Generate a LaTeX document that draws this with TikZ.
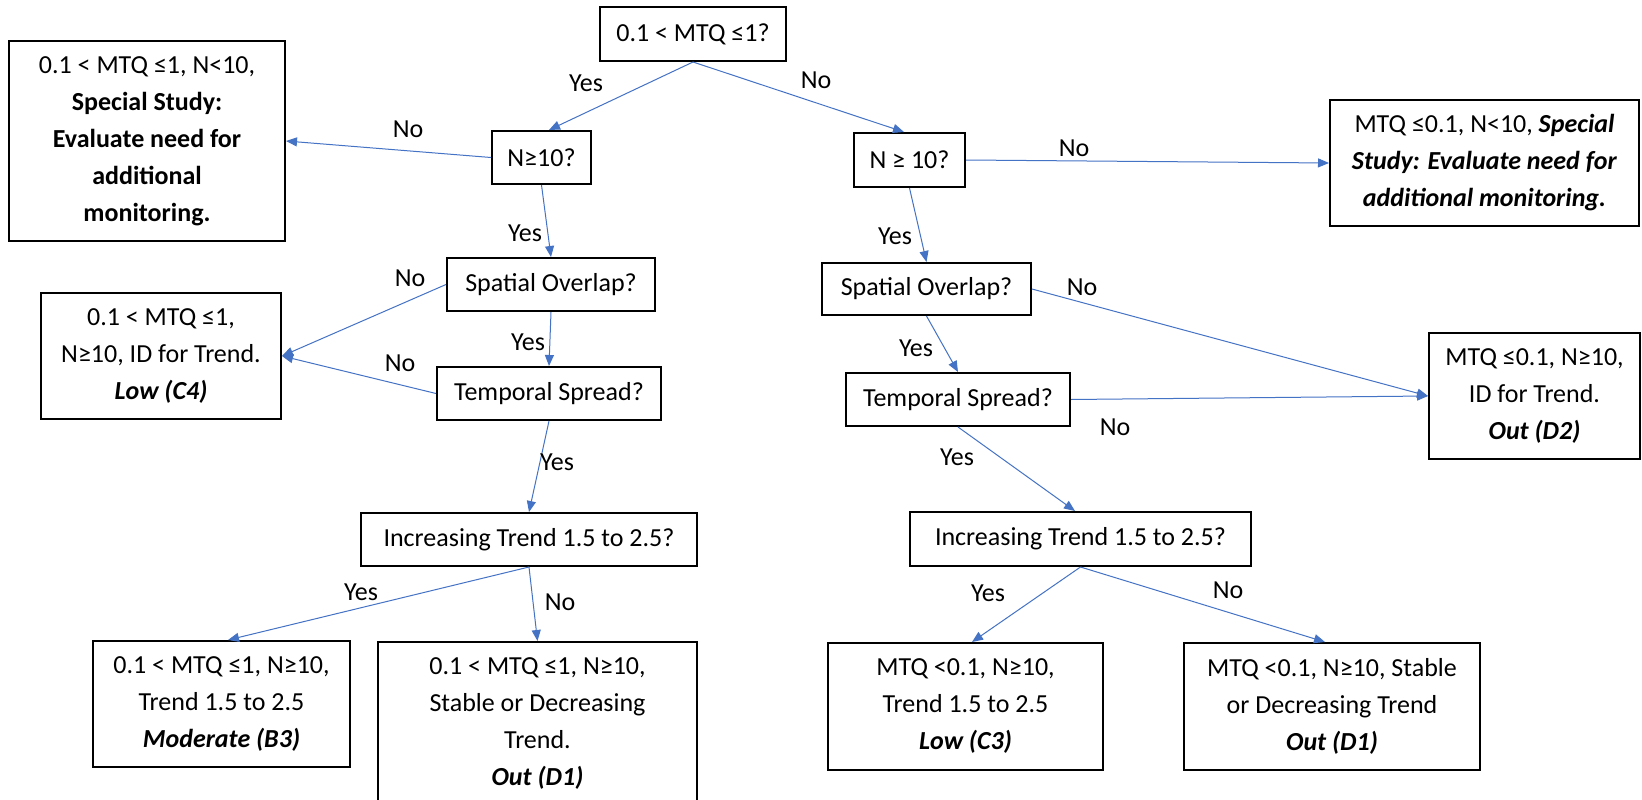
\documentclass[tikz,border=0pt]{standalone}
\usepackage{fontspec}
\setmainfont{Carlito}
\usetikzlibrary{arrows.meta}
\definecolor{arr}{HTML}{4472C4}
\begin{document}
\begin{tikzpicture}[x=1pt,y=-1pt,
  box/.style={draw=black,line width=2pt,align=center,inner sep=0pt,font=\fontsize{26}{37}\selectfont},
  lab/.style={font=\fontsize{26}{30}\selectfont,inner sep=0pt},
  conn/.style={draw=arr,line width=1pt,-{Triangle[length=11pt,width=9pt]}}]
\fill[white] (0,0) rectangle (1642,800);
\useasboundingbox (0,0) rectangle (1642,800);
\clip (0,0) rectangle (1642,800);

% boxes
\node[box,minimum width=186pt,minimum height=54pt] (q1) at (693,34) {0.1 < MTQ ≤1?};
\node[box,minimum width=276pt,minimum height=200pt] (lb1) at (147,141) {0.1 < MTQ ≤1, N<10,\\\textbf{Special Study:}\\\textbf{Evaluate need for}\\\textbf{additional}\\\textbf{monitoring.}};
\node[box,minimum width=99pt,minimum height=53pt] (nl) at (541.5,157.5) {N≥10?};
\node[box,minimum width=111pt,minimum height=54pt] (nr) at (909.5,160) {N ≥ 10?};
\node[box,minimum width=309pt,minimum height=126pt] (rb1) at (1484.5,163) {MTQ ≤0.1, N<10, \textbf{\textit{Special}}\\\textbf{\textit{Study: Evaluate need for}}\\\textbf{\textit{additional monitoring.}}};
\node[box,minimum width=208pt,minimum height=53pt] (sl) at (551,284.5) {Spatial Overlap?};
\node[box,minimum width=209pt,minimum height=52pt] (sr) at (926.5,289) {Spatial Overlap?};
\node[box,minimum width=240pt,minimum height=126pt] (c4) at (161,356) {0.1 < MTQ ≤1,\\N≥10, ID for Trend.\\\textbf{\textit{Low (C4)}}};
\node[box,minimum width=224pt,minimum height=53pt] (tl) at (549,393.5) {Temporal Spread?};
\node[box,minimum width=224pt,minimum height=53pt] (tr) at (958,399.5) {Temporal Spread?};
\node[box,minimum width=211pt,minimum height=126pt] (d2) at (1534.5,396) {MTQ ≤0.1, N≥10,\\ID for Trend.\\\textbf{\textit{Out (D2)}}};
\node[box,minimum width=336pt,minimum height=53pt] (il) at (529,539.5) {Increasing Trend 1.5 to 2.5?};
\node[box,minimum width=341pt,minimum height=54pt] (ir) at (1080.5,539) {Increasing Trend 1.5 to 2.5?};
\node[box,minimum width=257pt,minimum height=126pt] (b3) at (221.5,704) {0.1 < MTQ ≤1, N≥10,\\Trend 1.5 to 2.5\\\textbf{\textit{Moderate (B3)}}};
\node[box,minimum width=319pt,minimum height=163pt] (d1l) at (537.5,723.5) {0.1 < MTQ ≤1, N≥10,\\Stable or Decreasing\\Trend.\\\textbf{\textit{Out (D1)}}};
\node[box,minimum width=275pt,minimum height=127pt] (c3) at (965.5,706.5) {MTQ <0.1, N≥10,\\Trend 1.5 to 2.5\\\textbf{\textit{Low (C3)}}};
\node[box,minimum width=296pt,minimum height=127pt] (d1r) at (1332,706.5) {MTQ <0.1, N≥10, Stable\\or Decreasing Trend\\\textbf{\textit{Out (D1)}}};

% connectors
\draw[conn] (q1.south) -- ([xshift=7.5pt]nl.north);
\draw[conn] (q1.south) -- ([xshift=-5.5pt]nr.north);
\draw[conn] (nl.west) -- (lb1.east);
\draw[conn] (nl.south) -- (sl.north);
\draw[conn] (nr.east) -- (rb1.west);
\draw[conn] (nr.south) -- (sr.north);
\draw[conn] (sl.west) -- (c4.east);
\draw[conn] (sl.south) -- (tl.north);
\draw[conn] (tl.west) -- (c4.east);
\draw[conn] (sr.east) -- (d2.west);
\draw[conn] (sr.south) -- (tr.north);
\draw[conn] (tr.east) -- (d2.west);
\draw[conn] (tl.south) -- (il.north);
\draw[conn] (tr.south) -- ([xshift=-5.5pt]ir.north);
\draw[conn] (il.south) -- ([xshift=6.5pt]b3.north);
\draw[conn] (il.south) -- (d1l.north);
\draw[conn] (ir.south) -- ([xshift=6.5pt]c3.north);
\draw[conn] (ir.south) -- ([xshift=-7pt]d1r.north);

% labels
\node[lab] (l1) at (586,83) {Yes};
\node[lab] (l2) at (816,80) {No};
\node[lab] (l3) at (408,129) {No};
\node[lab] (l4) at (525,233) {Yes};
\node[lab] (l5) at (1074,148) {No};
\node[lab] (l6) at (895,236) {Yes};
\node[lab] (l7) at (410,278) {No};
\node[lab] (l8) at (528,342) {Yes};
\node[lab] (l9) at (400,363) {No};
\node[lab] (l10) at (1082,287) {No};
\node[lab] (l11) at (916,348) {Yes};
\node[lab] (l12) at (1115,427) {No};
\node[lab] (l13) at (557,462) {Yes};
\node[lab] (l14) at (957,457) {Yes};
\node[lab] (l15) at (361,592) {Yes};
\node[lab] (l16) at (560,602) {No};
\node[lab] (l17) at (988,593) {Yes};
\node[lab] (l18) at (1228,590) {No};
\end{tikzpicture}
\end{document}
